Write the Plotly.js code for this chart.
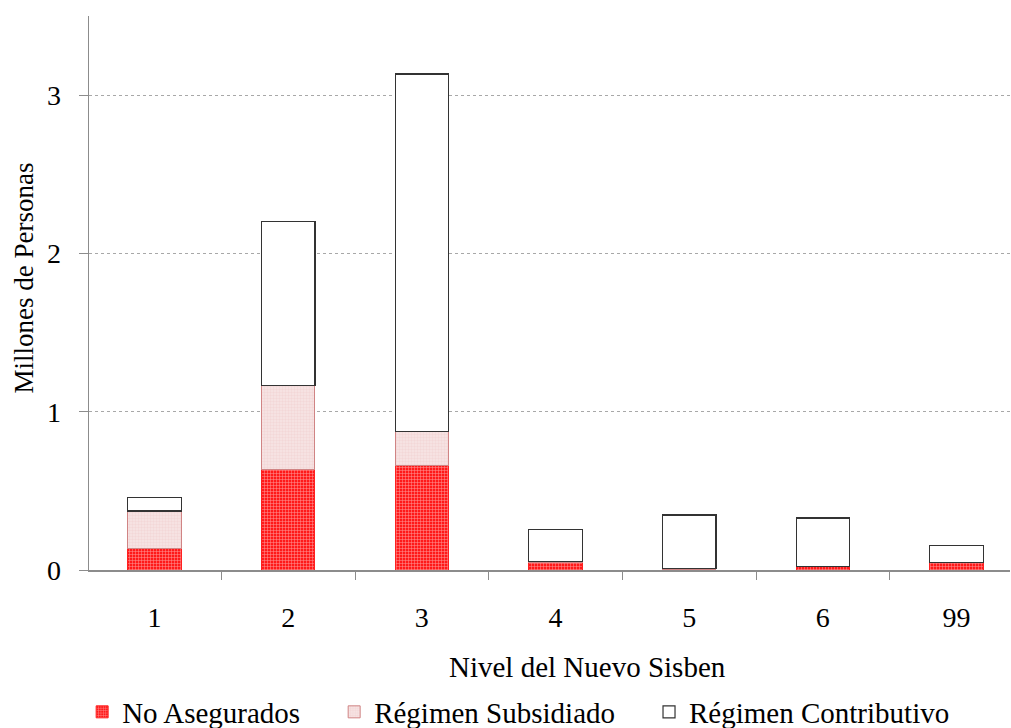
<!DOCTYPE html>
<html>
<head>
<meta charset="utf-8">
<script src="https://cdn.plot.ly/plotly-3.1.0.min.js"></script>
<style>
  html, body { margin: 0; padding: 0; background: #fff; }
  #chart { width: 1011px; height: 728px; }
</style>
</head>
<body>
<div id="chart"></div>
<script>
// niveles del Sisben (eje x)
const niveles = ["1", "2", "3", "4", "5", "6", "99"];

// millones de personas
const noAsegurados = [0.139, 0.633, 0.658, 0.050, 0.005, 0.020, 0.045];
const subsidiado   = [0.234, 0.532, 0.215, 0.005, 0.003, 0.003, 0.004];
const contributivo = [0.083, 1.035, 2.260, 0.200, 0.340, 0.306, 0.107];

const serif = "Liberation Serif, Times New Roman, serif";
const pad = "\u00a0\u00a0\u00a0\u00a0";

const traces = [
  {
    type: "bar", name: "No Asegurados" + pad, x: niveles, y: noAsegurados,
    width: 0.4,
    marker: {
      color: "#ff1a1a",
      line: { color: "#ff2020", width: 1 },
      pattern: { shape: "+", bgcolor: "#ff1a1a", fgcolor: "#ff9a9a", size: 3, solidity: 0.3 }
    }
  },
  {
    type: "bar", name: "Régimen Subsidiado" + pad, x: niveles, y: subsidiado,
    width: 0.4,
    marker: {
      color: "#f5e0e0",
      line: { color: "#d08484", width: 1 },
      pattern: { shape: "+", bgcolor: "#f6e2e2", fgcolor: "#ecc8c8", size: 3, solidity: 0.15 }
    }
  },
  {
    type: "bar", name: "Régimen Contributivo", x: niveles, y: contributivo,
    width: 0.4,
    marker: { color: "#ffffff", line: { color: "#333333", width: 1.2 } }
  }
];

const layout = {
  width: 1011, height: 728,
  barmode: "stack",
  paper_bgcolor: "#fff", plot_bgcolor: "#fff",
  font: { family: serif, color: "#000", size: 27 },
  margin: { l: 89, r: 1, t: 16, b: 158 },
  showlegend: true,
  legend: {
    orientation: "h",
    xref: "container", yref: "container",
    x: 0.513, xanchor: "center",
    y: 0.022, yanchor: "middle",
    font: { family: serif, size: 29 },
    itemwidth: 30,
    traceorder: "normal"
  },
  xaxis: {
    type: "category",
    range: [-0.49, 6.4],
    showline: true, linecolor: "#8c8c8c", linewidth: 1.5,
    ticks: "outside", tickson: "boundaries", ticklen: 8, tickcolor: "#8c8c8c",
    tickfont: { family: serif, size: 28 },
    ticklabelstandoff: 22,
    showgrid: false, zeroline: false
  },
  yaxis: {
    range: [0, 3.5],
    tickvals: [0, 1, 2, 3],
    showline: true, linecolor: "#8c8c8c", linewidth: 1.5,
    ticks: "outside", ticklen: 9, tickcolor: "#8c8c8c",
    tickfont: { family: serif, size: 28 },
    ticklabelstandoff: 12,
    showgrid: true, gridcolor: "#a8a8a8", gridwidth: 1, griddash: "dot",
    zeroline: false
  },
  // titulos de ejes como anotaciones para ubicarlos como en el original
  annotations: [
    {
      text: "Nivel del Nuevo Sisben", showarrow: false,
      xref: "paper", yref: "paper", x: 0.541, y: -0.175,
      xanchor: "center", yanchor: "middle",
      font: { family: serif, size: 29 }
    },
    {
      text: "Millones de Personas", showarrow: false, textangle: -90,
      xref: "paper", yref: "paper", x: -0.07, y: 0.527,
      xanchor: "center", yanchor: "middle",
      font: { family: serif, size: 27 }
    }
  ]
};

Plotly.newPlot("chart", traces, layout, { displayModeBar: false, staticPlot: true });
</script>
</body>
</html>
